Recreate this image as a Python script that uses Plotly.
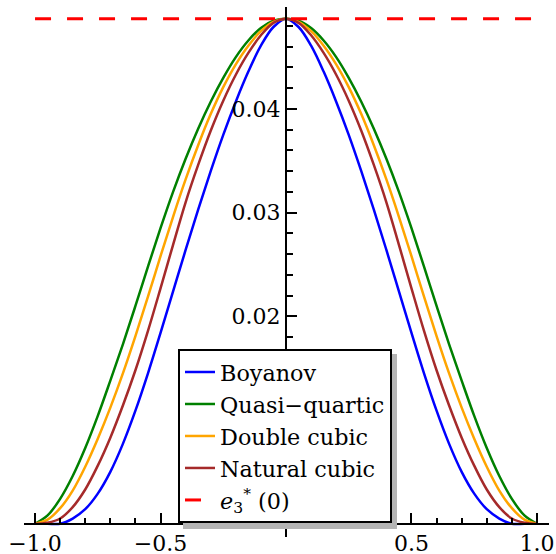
import numpy as np
import plotly.graph_objects as go

# Half-profiles sampled at |x| = 0.00, 0.05, ..., 1.00 (curves are even in x)
half_x = [0.00, 0.05, 0.10, 0.15, 0.20, 0.25, 0.30, 0.35, 0.40, 0.45, 0.50,
          0.55, 0.60, 0.65, 0.70, 0.75, 0.80, 0.85, 0.90, 0.95, 1.00]

boyanov = [0.0487, 0.0479, 0.0461, 0.0436, 0.0407, 0.0375, 0.0340, 0.0303, 0.0264, 0.0224, 0.0184,
           0.0145, 0.0109, 0.0077, 0.0050, 0.0029, 0.0014, 0.0005, 0.0000, 0.0000, 0.0000]
quasi_quartic = [0.0487, 0.0485, 0.0478, 0.0466, 0.0450, 0.0430, 0.0407, 0.0381, 0.0352, 0.0320, 0.0285,
                 0.0248, 0.0210, 0.0173, 0.0138, 0.0104, 0.0073, 0.0046, 0.0024, 0.0008, 0.0000]
double_cubic = [0.0487, 0.0484, 0.0475, 0.0461, 0.0443, 0.0421, 0.0395, 0.0365, 0.0332, 0.0296, 0.0258,
                0.0219, 0.0181, 0.0145, 0.0112, 0.0082, 0.0055, 0.0032, 0.0015, 0.0004, 0.0000]
natural_cubic = [0.0487, 0.0483, 0.0471, 0.0454, 0.0433, 0.0408, 0.0379, 0.0346, 0.0310, 0.0269, 0.0227,
                 0.0186, 0.0148, 0.0114, 0.0083, 0.0056, 0.0033, 0.0016, 0.0005, 0.0001, 0.0000]

e3_value = 0.0487
e3_x = [-1.0, 1.0]

series = [
    ("Boyanov", boyanov, "#0000ff"),
    ("Quasi\u2212quartic", quasi_quartic, "#008000"),
    ("Double cubic", double_cubic, "#ffa500"),
    ("Natural cubic", natural_cubic, "#a52a2a"),
]

x_ticks = [-1.0, -0.5, 0.5, 1.0]
y_ticks = [0.02, 0.03, 0.04]

x_range = [-1.044, 1.048]
y_range = [-0.00128, 0.04983]


def full_profile(vals):
    xs = [-v for v in half_x[::-1]] + half_x[1:]
    ys = vals[::-1] + vals[1:]
    return xs, ys


fig = go.Figure()
for name, vals, color in series:
    xs, ys = full_profile(vals)
    fig.add_trace(go.Scatter(
        x=xs, y=ys, mode="lines", name=name,
        line=dict(color=color, width=2.5, shape="spline", smoothing=1.0),
    ))

fig.add_trace(go.Scatter(
    x=e3_x, y=[e3_value, e3_value], mode="lines",
    name="<i>e</i><sub>3</sub><sup>*</sup> (0)",
    line=dict(color="#ff0000", width=3, dash="16px,16px"),
))

serif = "DejaVu Serif, Liberation Serif, serif"
x_minor = [round(v, 2) for v in np.arange(-1.0, 1.001, 0.1) if round(v, 2) not in x_ticks and abs(v) > 1e-9]
y_minor = [round(v, 4) for v in np.arange(0.0, 0.0495, 0.002) if round(v, 4) not in y_ticks]

fig.update_layout(
    width=556, height=554,
    margin=dict(l=24, r=7, t=7, b=17),
    plot_bgcolor="white", paper_bgcolor="white",
    font=dict(family=serif, size=22, color="black"),
    showlegend=True,
    legend=dict(
        x=(178 - 24) / 525, y=(537 - 349) / 530, xanchor="left", yanchor="top",
        bgcolor="white", bordercolor="black", borderwidth=2,
        font=dict(family=serif, size=22.3, color="black"),
        itemwidth=30, tracegroupgap=0,
    ),
    xaxis=dict(
        range=x_range, anchor="free", automargin=False,
        position=(0 - y_range[0]) / (y_range[1] - y_range[0]),
        showgrid=False, zeroline=False,
        showline=True, linecolor="black", linewidth=2,
        ticks="inside", ticklen=10, tickwidth=1.5, tickcolor="black",
        tickmode="array", tickvals=x_ticks,
        ticktext=[f"{v:.1f}".replace("-", "\u2212") for v in x_ticks],
        tickfont=dict(family=serif, size=22),
        minor=dict(tickmode="array", tickvals=x_minor, ticks="inside",
                   ticklen=5, tickwidth=1.5, tickcolor="black"),
    ),
    yaxis=dict(
        range=y_range, anchor="free", automargin=False,
        position=(0 - x_range[0]) / (x_range[1] - x_range[0]),
        showgrid=False, zeroline=False,
        showline=True, linecolor="black", linewidth=2,
        ticks="inside", ticklen=10, tickwidth=1.5, tickcolor="black",
        tickmode="array", tickvals=y_ticks,
        ticktext=[f"{v:.2f}" for v in y_ticks],
        tickfont=dict(family=serif, size=22),
        minor=dict(tickmode="array", tickvals=y_minor, ticks="inside",
                   ticklen=6, tickwidth=1.5, tickcolor="black"),
    ),
)

# drop shadow behind the legend box
fig.add_shape(
    type="rect", xref="paper", yref="paper", layer="above",
    x0=(183 - 24) / 525, x1=(397 - 24) / 525,
    y0=(537 - 529) / 530, y1=(537 - 354) / 530,
    fillcolor="#b4b4b4", line=dict(width=0),
)

fig.write_html("out.html")
